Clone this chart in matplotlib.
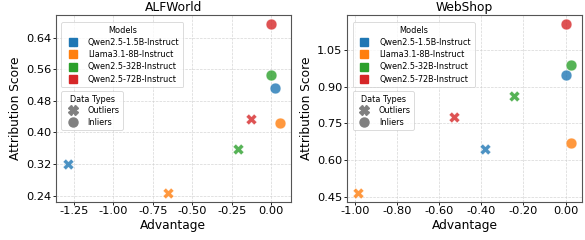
import matplotlib.pyplot as plt
from matplotlib.lines import Line2D

plt.rcParams['axes.unicode_minus'] = False

models = ['Qwen2.5-1.5B-Instruct', 'Llama3.1-8B-Instruct',
          'Qwen2.5-32B-Instruct', 'Qwen2.5-72B-Instruct']
colors = ['#1f77b4', '#ff7f0e', '#2ca02c', '#d62728']

# ALFWorld: (advantage, attribution) per model
alf_out_x = [-1.29, -0.652, -0.213, -0.130]
alf_out_y = [0.319, 0.247, 0.358, 0.434]
alf_in_x = [0.021, 0.055, 0.0, 0.0]
alf_in_y = [0.513, 0.425, 0.545, 0.675]

# WebShop
web_out_x = [-0.382, -0.983, -0.246, -0.528]
web_out_y = [0.645, 0.465, 0.863, 0.777]
web_in_x = [0.0, 0.025, 0.024, 0.0]
web_in_y = [0.948, 0.668, 0.987, 1.156]

alf_xticks = [-1.25, -1.00, -0.75, -0.50, -0.25, 0.00]
alf_yticks = [0.24, 0.32, 0.40, 0.48, 0.56, 0.64]
web_xticks = [-1.00, -0.80, -0.60, -0.40, -0.20, 0.00]
web_yticks = [0.45, 0.60, 0.75, 0.90, 1.05]

fig = plt.figure(figsize=(5.85, 2.4), dpi=100)
ax1 = fig.add_axes([0.0957, 0.16, 0.4013, 0.7775])
ax2 = fig.add_axes([0.5937, 0.16, 0.4006, 0.7775])


def draw(ax, title, ox, oy, ix, iy, xt, yt, xlim, ylim):
    for i in range(4):
        ax.scatter(ox[i], oy[i], marker='X', s=60, color=colors[i],
                   alpha=0.8, edgecolor='white', linewidth=0.3, zorder=3)
        ax.scatter(ix[i], iy[i], marker='o', s=60, color=colors[i],
                   alpha=0.8, edgecolor='white', linewidth=0.3, zorder=3)
    ax.set_xticks(xt)
    ax.set_yticks(yt)
    ax.set_xticklabels(['%.2f' % v for v in xt], fontsize=8.2)
    ax.set_yticklabels(['%.2f' % v for v in yt], fontsize=8.2)
    ax.set_xlim(xlim)
    ax.set_ylim(ylim)
    ax.tick_params(length=2, width=0.6, pad=1.5)
    ax.grid(True, linestyle='--', linewidth=0.5, color='#cccccc', alpha=0.8)
    ax.set_axisbelow(True)
    for sp in ax.spines.values():
        sp.set_color('#555555')
        sp.set_linewidth(0.8)
    ax.set_title(title, fontsize=8.8, pad=3)
    ax.set_xlabel('Advantage', fontsize=8.8, labelpad=1.5)
    ax.set_ylabel('Attribution Score', fontsize=8.8, labelpad=3)

    h1 = [Line2D([], [], marker='s', linestyle='', markersize=5.5, color=c)
          for c in colors]
    leg1 = ax.legend(h1, models, title='Models', loc='upper left',
                     bbox_to_anchor=(0.005, 0.985), fontsize=5.9,
                     title_fontsize=5.9, frameon=True, borderpad=0.45,
                     labelspacing=0.4, handletextpad=0.8)
    leg1.get_frame().set_linewidth(0.6)
    ax.add_artist(leg1)
    h2 = [Line2D([], [], marker='X', linestyle='', markersize=6.5, color='gray'),
          Line2D([], [], marker='o', linestyle='', markersize=6.5, color='gray')]
    leg2 = ax.legend(h2, ['Outliers', 'Inliers'], title='Data Types',
                     loc='upper left', bbox_to_anchor=(0.005, 0.612),
                     fontsize=5.9, title_fontsize=5.9, frameon=True,
                     borderpad=0.4, labelspacing=0.3, handletextpad=0.8)
    leg2.get_frame().set_linewidth(0.6)


draw(ax1, 'ALFWorld', alf_out_x, alf_out_y, alf_in_x, alf_in_y,
     alf_xticks, alf_yticks, (-1.364, 0.123), (0.225, 0.697))
draw(ax2, 'WebShop', web_out_x, web_out_y, web_in_x, web_in_y,
     web_xticks, web_yticks, (-1.035, 0.076), (0.430, 1.193))

fig.savefig('out.png', dpi=100)
